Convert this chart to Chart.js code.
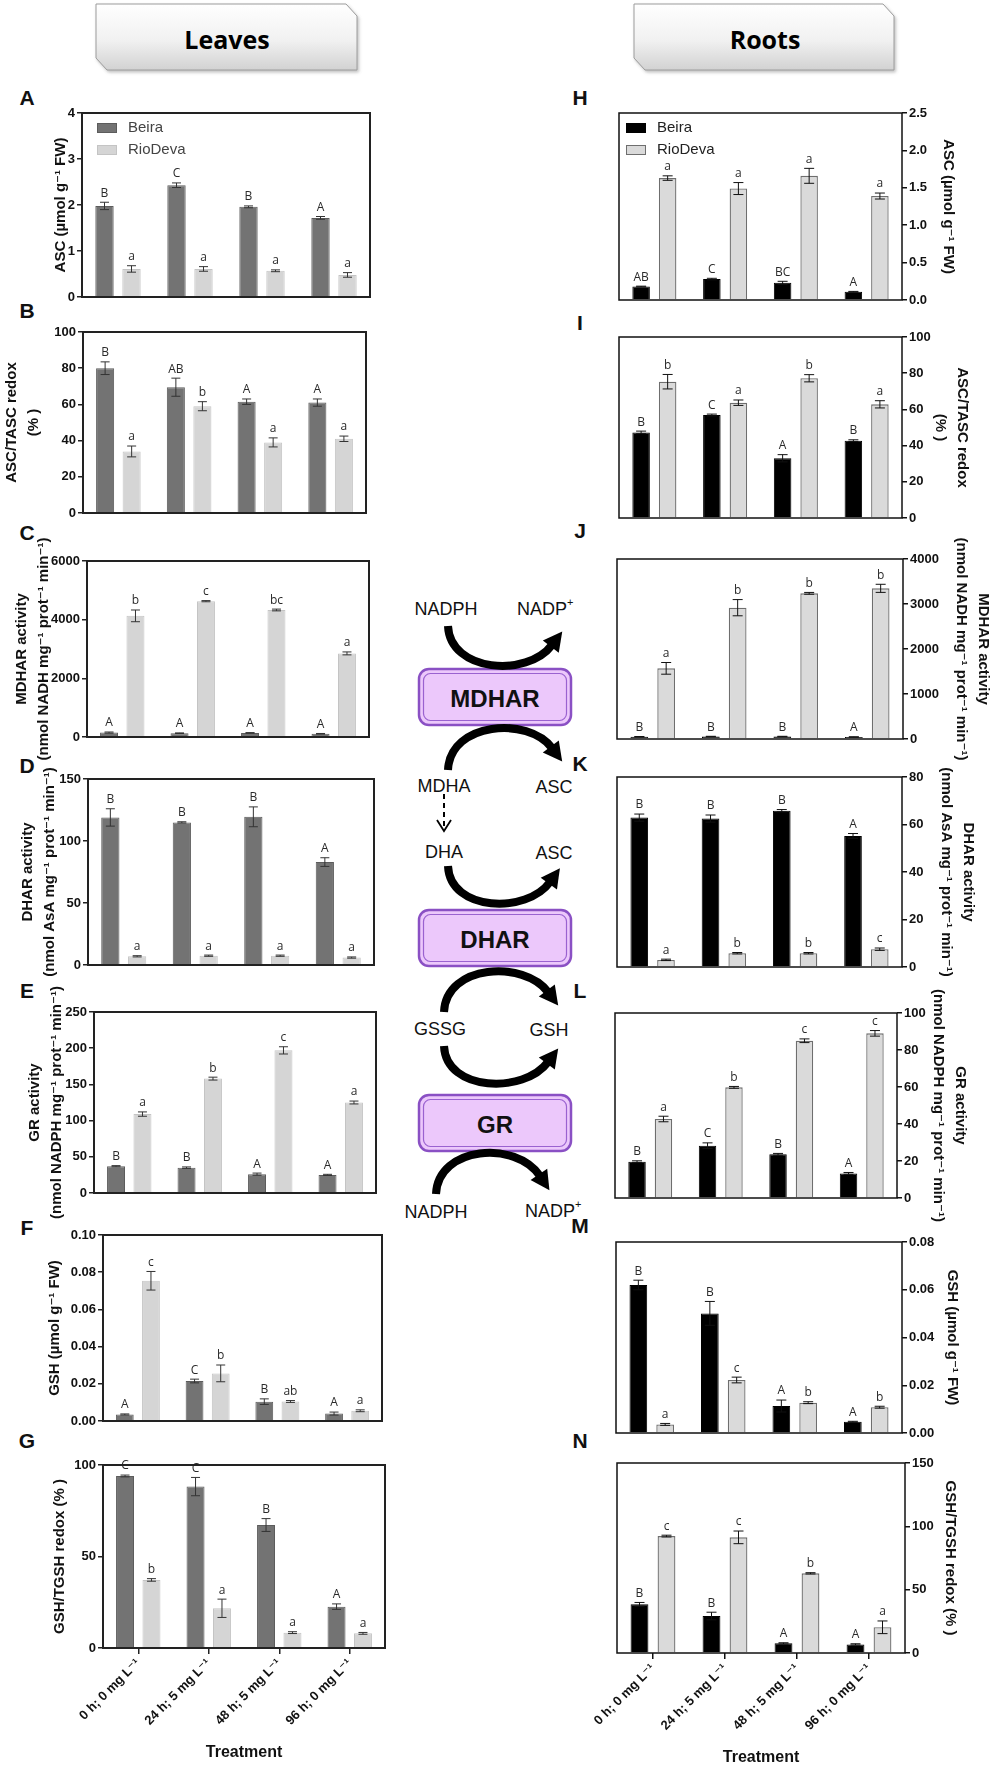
<!DOCTYPE html>
<html>
<head>
<meta charset="utf-8">
<script src="https://cdn.jsdelivr.net/npm/chart.js@4.4.1/dist/chart.umd.min.js"></script>
<style>
  body { margin: 0; background: #fff; width: 1000px; height: 1772px; position: relative; overflow: hidden; }
  canvas { position: absolute; }
  #art { position: absolute; left: 0; top: 0; }
  #art text { font-family: 'Liberation Sans', Arial, 'DejaVu Sans', sans-serif; fill: #111; }
</style>
</head>
<body>
<svg id="art" width="1000" height="1772" xmlns="http://www.w3.org/2000/svg">
  <defs>
    <linearGradient id="hdrFill" x1="0" y1="0" x2="0" y2="1">
      <stop offset="0" stop-color="#ffffff"/>
      <stop offset="0.55" stop-color="#f1f1f1"/>
      <stop offset="1" stop-color="#d2d2d2"/>
    </linearGradient>
    <filter id="hdrShadow" x="-5%" y="-10%" width="115%" height="140%">
      <feDropShadow dx="1.5" dy="2" stdDeviation="1.5" flood-color="#777" flood-opacity="0.45"/>
    </filter>
  </defs>
  <polygon points="96,4 346,4 357,16 357,70 107,70 96,58" fill="url(#hdrFill)" stroke="#9c9c9c" stroke-width="1" filter="url(#hdrShadow)"/>
  <polygon points="634,4 883,4 894,16 894,70 645,70 634,58" fill="url(#hdrFill)" stroke="#9c9c9c" stroke-width="1" filter="url(#hdrShadow)"/>
  <text x="227" y="39" text-anchor="middle" dominant-baseline="central" style="font-family:'Open Sans',sans-serif;font-weight:700;font-size:25px;fill:#000">Leaves</text>
  <text x="765" y="39" text-anchor="middle" dominant-baseline="central" style="font-family:'Open Sans',sans-serif;font-weight:700;font-size:25px;fill:#000">Roots</text>
  <g id="diagram"></g>
  <g id="tags"></g>
</svg>
<script>
Chart.defaults.font.family = "'Liberation Sans', Arial, 'DejaVu Sans', sans-serif"
Chart.defaults.color = '#111'

const treatments = ['0 h; 0 mg L⁻¹', '24 h; 5 mg L⁻¹', '48 h; 5 mg L⁻¹', '96 h; 0 mg L⁻¹']

// ---- Leaves ----
// A: ASC
const aBeira = [1.98, 2.43, 1.96, 1.72]
const aBeiraErr = [0.08, 0.05, 0.02, 0.03]
const aRio = [0.61, 0.61, 0.57, 0.48]
const aRioErr = [0.07, 0.05, 0.02, 0.05]
const aBeiraSig = ['B', 'C', 'B', 'A']
const aRioSig = ['a', 'a', 'a', 'a']
// B: ASC/TASC redox
const bBeira = [80, 69.5, 61.5, 61]
const bBeiraErr = [3.5, 5, 1.5, 2]
const bRio = [34, 59, 39, 41]
const bRioErr = [3, 2.5, 2.5, 1.5]
const bBeiraSig = ['B', 'AB', 'A', 'A']
const bRioSig = ['a', 'b', 'a', 'a']
// C: MDHAR
const cBeira = [150, 130, 140, 110]
const cBeiraErr = [20, 10, 10, 10]
const cRio = [4130, 4630, 4330, 2850]
const cRioErr = [200, 20, 30, 50]
const cBeiraSig = ['A', 'A', 'A', 'A']
const cRioSig = ['b', 'c', 'bc', 'a']
// D: DHAR
const dBeira = [119, 115, 119.5, 83]
const dBeiraErr = [7, 0.5, 8, 3.5]
const dRio = [7, 7.5, 7.5, 6]
const dRioErr = [0.5, 0.5, 0.5, 0.5]
const dBeiraSig = ['B', 'B', 'B', 'A']
const dRioSig = ['a', 'a', 'a', 'a']
// E: GR
const eBeira = [37, 35, 26, 25]
const eBeiraErr = [0.8, 1, 1.5, 0.8]
const eRio = [109, 158, 197, 125]
const eRioErr = [3, 2, 5, 2]
const eBeiraSig = ['B', 'B', 'A', 'A']
const eRioSig = ['a', 'b', 'c', 'a']
// F: GSH
const fBeira = [0.0035, 0.0215, 0.0104, 0.004]
const fBeiraErr = [0.0003, 0.001, 0.0015, 0.0008]
const fRio = [0.0754, 0.0256, 0.0105, 0.0055]
const fRioErr = [0.005, 0.0045, 0.0005, 0.0005]
const fBeiraSig = ['A', 'C', 'B', 'A']
const fRioSig = ['c', 'b', 'ab', 'a']
// G: GSH/TGSH redox
const gBeira = [94, 88.2, 67.2, 22.6]
const gBeiraErr = [0.5, 5, 3.5, 1.5]
const gRio = [37.2, 21.7, 8.4, 8]
const gRioErr = [0.7, 5, 0.5, 0.5]
const gBeiraSig = ['C', 'C', 'B', 'A']
const gRioSig = ['b', 'a', 'a', 'a']

// ---- Roots ----
// H: ASC
const hBeira = [0.18, 0.28, 0.23, 0.11]
const hBeiraErr = [0.005, 0.01, 0.02, 0.005]
const hRio = [1.63, 1.49, 1.66, 1.39]
const hRioErr = [0.03, 0.08, 0.1, 0.04]
const hBeiraSig = ['AB', 'C', 'BC', 'A']
const hRioSig = ['a', 'a', 'a', 'a']
// I: ASC/TASC redox
const iBeira = [47.3, 56.9, 33, 42.7]
const iBeiraErr = [0.7, 0.5, 2, 0.5]
const iRio = [75.3, 63.7, 77.2, 62.8]
const iRioErr = [4, 1.5, 2, 2]
const iBeiraSig = ['B', 'C', 'A', 'B']
const iRioSig = ['b', 'a', 'b', 'a']
// J: MDHAR
const jBeira = [50, 55, 55, 45]
const jBeiraErr = [5, 5, 5, 5]
const jRio = [1570, 2918, 3237, 3348]
const jRioErr = [130, 180, 20, 90]
const jBeiraSig = ['B', 'B', 'B', 'A']
const jRioSig = ['a', 'b', 'b', 'b']
// K: DHAR
const kBeira = [62.9, 62.5, 65.8, 55.2]
const kBeiraErr = [1.5, 1.5, 0.5, 1]
const kRio = [3, 5.8, 5.8, 7.5]
const kRioErr = [0.3, 0.3, 0.3, 0.5]
const kBeiraSig = ['B', 'B', 'B', 'A']
const kRioSig = ['a', 'b', 'b', 'c']
// L: GR
const lBeira = [19.6, 28.3, 23.6, 13.3]
const lBeiraErr = [0.5, 1.5, 0.5, 0.5]
const lRio = [42.7, 59.8, 85, 89]
const lRioErr = [1.5, 0.5, 1, 1.5]
const lBeiraSig = ['B', 'C', 'B', 'A']
const lRioSig = ['a', 'b', 'c', 'c']
// M: GSH
const mBeira = [0.062, 0.0501, 0.0113, 0.0047]
const mBeiraErr = [0.002, 0.005, 0.0025, 0.0002]
const mRio = [0.0036, 0.0222, 0.0127, 0.0108]
const mRioErr = [0.0004, 0.0012, 0.0004, 0.0004]
const mBeiraSig = ['B', 'B', 'A', 'A']
const mRioSig = ['a', 'c', 'b', 'b']
// N: GSH/TGSH redox
const nBeira = [38.4, 29.2, 7.6, 6.8]
const nBeiraErr = [1.5, 3, 0.5, 0.5]
const nRio = [92.3, 91.3, 62.9, 20.3]
const nRioErr = [0.7, 5, 0.5, 5]
const nBeiraSig = ['B', 'B', 'A', 'A']
const nRioSig = ['c', 'c', 'b', 'a']

const leafPanels = [
    { tag: 'A', title: 'ASC (µmol g⁻¹ FW)', max: 4, step: 1, dec: 0, beira: [aBeira, aBeiraErr, aBeiraSig], rio: [aRio, aRioErr, aRioSig], legend: true },
    { tag: 'B', title: ['ASC/TASC redox', '(% )'], max: 100, step: 20, dec: 0, beira: [bBeira, bBeiraErr, bBeiraSig], rio: [bRio, bRioErr, bRioSig] },
    { tag: 'C', title: ['MDHAR activity', '(nmol NADH mg⁻¹ prot⁻¹ min⁻¹)'], max: 6000, step: 2000, dec: 0, beira: [cBeira, cBeiraErr, cBeiraSig], rio: [cRio, cRioErr, cRioSig] },
    { tag: 'D', title: ['DHAR activity', '(nmol AsA mg⁻¹ prot⁻¹ min⁻¹)'], max: 150, step: 50, dec: 0, beira: [dBeira, dBeiraErr, dBeiraSig], rio: [dRio, dRioErr, dRioSig] },
    { tag: 'E', title: ['GR activity', '(nmol NADPH mg⁻¹ prot⁻¹ min⁻¹)'], max: 250, step: 50, dec: 0, beira: [eBeira, eBeiraErr, eBeiraSig], rio: [eRio, eRioErr, eRioSig] },
    { tag: 'F', title: 'GSH (µmol g⁻¹ FW)', max: 0.1, step: 0.02, dec: 2, beira: [fBeira, fBeiraErr, fBeiraSig], rio: [fRio, fRioErr, fRioSig] },
    { tag: 'G', title: 'GSH/TGSH redox (% )', max: 100, step: 50, dec: 0, beira: [gBeira, gBeiraErr, gBeiraSig], rio: [gRio, gRioErr, gRioSig], xLabels: true }
]

const rootPanels = [
    { tag: 'H', title: 'ASC (µmol g⁻¹ FW)', max: 2.5, step: 0.5, dec: 1, beira: [hBeira, hBeiraErr, hBeiraSig], rio: [hRio, hRioErr, hRioSig], legend: true },
    { tag: 'I', title: ['ASC/TASC redox', '(% )'], max: 100, step: 20, dec: 0, beira: [iBeira, iBeiraErr, iBeiraSig], rio: [iRio, iRioErr, iRioSig] },
    { tag: 'J', title: ['MDHAR activity', '(nmol NADH mg⁻¹ prot⁻¹ min⁻¹)'], max: 4000, step: 1000, dec: 0, beira: [jBeira, jBeiraErr, jBeiraSig], rio: [jRio, jRioErr, jRioSig] },
    { tag: 'K', title: ['DHAR activity', '(nmol AsA mg⁻¹ prot⁻¹ min⁻¹)'], max: 80, step: 20, dec: 0, beira: [kBeira, kBeiraErr, kBeiraSig], rio: [kRio, kRioErr, kRioSig] },
    { tag: 'L', title: ['GR activity', '(nmol NADPH mg⁻¹ prot⁻¹ min⁻¹)'], max: 100, step: 20, dec: 0, beira: [lBeira, lBeiraErr, lBeiraSig], rio: [lRio, lRioErr, lRioSig] },
    { tag: 'M', title: 'GSH (µmol g⁻¹ FW)', max: 0.08, step: 0.02, dec: 2, beira: [mBeira, mBeiraErr, mBeiraSig], rio: [mRio, mRioErr, mRioSig] },
    { tag: 'N', title: 'GSH/TGSH redox (% )', max: 150, step: 50, dec: 0, beira: [nBeira, nBeiraErr, nBeiraSig], rio: [nRio, nRioErr, nRioSig], xLabels: true }
]

// plot boxes: [left, right, top, bottom, x of first title line, tag x, tag y]
const leafBoxes = [
    [82, 370, 113, 297, 61, 27, 97],
    [83, 366, 332, 513, 12, 27, 310],
    [87, 369, 561, 737, 22, 27, 532],
    [88, 374, 779, 965, 28, 27, 765],
    [94, 376, 1012, 1193, 35, 27, 990],
    [103, 382, 1235, 1421, 55, 27, 1227],
    [103, 385, 1465, 1648, 60, 27, 1440]
]
const rootBoxes = [
    [619, 902, 113, 300, 948, 580, 97],
    [619, 902, 337, 518, 962, 580, 322],
    [617, 903, 559, 739, 983, 580, 530],
    [617, 902, 777, 967, 968, 580, 763],
    [615, 897, 1013, 1198, 960, 580, 990],
    [616, 902, 1242, 1433, 952, 580, 1225],
    [617, 905, 1463, 1653, 950, 580, 1440]
]

const leafStyle = {
    beiraFill: '#737373', beiraLine: '#5c5c5c', beiraW: 1,
    rioFill: '#d5d5d5', rioLine: '#c4c4c4', rioW: 1,
    errColor: '#333', cap: 4.5, frame: '#222', frameW: 2, barPct: 0.68
}
const rootStyle = {
    beiraFill: '#000000', beiraLine: '#000000', beiraW: 1,
    rioFill: '#dadada', rioLine: '#6e6e6e', rioW: 1.3,
    errColor: '#111', cap: 5, frame: '#111', frameW: 1.5, barPct: 0.66
}

// error bars, letters, frame and the inside legend
const barMarks = {
    id: 'barMarks',
    afterDatasetsDraw(chart, args, opts) {
        const { ctx, chartArea } = chart
        const y = chart.scales.y
        ctx.save()
        chart.data.datasets.forEach((ds, di) => {
            chart.getDatasetMeta(di).data.forEach((bar, i) => {
                const v = ds.data[i]
                const e = ds.err[i]
                const top = y.getPixelForValue(v + e)
                const low = y.getPixelForValue(Math.max(v - e, 0))
                ctx.strokeStyle = opts.errColor
                ctx.lineWidth = 1
                ctx.beginPath()
                ctx.moveTo(bar.x, low)
                ctx.lineTo(bar.x, top)
                ctx.moveTo(bar.x - opts.cap, top)
                ctx.lineTo(bar.x + opts.cap, top)
                ctx.moveTo(bar.x - opts.cap, low)
                ctx.lineTo(bar.x + opts.cap, low)
                ctx.stroke()
                ctx.fillStyle = '#2a2a2a'
                ctx.font = "12px 'Open Sans', 'Liberation Sans', sans-serif"
                ctx.textAlign = 'center'
                ctx.textBaseline = 'bottom'
                ctx.fillText(ds.sig[i], bar.x, Math.min(top, bar.y) - 3)
            })
        })
        ctx.strokeStyle = opts.frame
        ctx.lineWidth = opts.frameW
        ctx.strokeRect(chartArea.left, chartArea.top, chartArea.right - chartArea.left, chartArea.bottom - chartArea.top)
        if (opts.legend) {
            const lx = chartArea.left + opts.legend.dx
            chart.data.datasets.forEach((ds, di) => {
                const ly = chartArea.top + 10 + di * 22
                ctx.fillStyle = ds.backgroundColor
                ctx.fillRect(lx, ly, 20, 10)
                ctx.strokeStyle = ds.borderColor
                ctx.lineWidth = 1
                ctx.strokeRect(lx + 0.5, ly + 0.5, 19, 9)
                ctx.fillStyle = opts.legend.color
                ctx.font = "15px 'Liberation Sans', Arial, sans-serif"
                ctx.textAlign = 'left'
                ctx.textBaseline = 'middle'
                ctx.fillText(ds.label, lx + 31, ly + 5)
            })
        }
        ctx.restore()
    }
}

function addPanel(panel, box, side, style) {
    const [pl, pr, pt, pb, titleX] = box
    const padTop = 45
    const xH = panel.xLabels ? 115 : 0
    const padBottom = panel.xLabels ? 4 : 45
    let left, width, axisW, padL, padR
    if (side === 'left') {
        padL = 0
        padR = 14
        left = Math.round(titleX - 11)
        axisW = pl - left
        width = pr + padR - left
    } else {
        padL = 50
        padR = 0
        left = pl - padL
        axisW = Math.round(titleX + 11 - pr)
        width = padL + (pr - pl) + axisW
    }
    const height = padTop + (pb - pt) + xH + padBottom

    const canvas = document.createElement('canvas')
    canvas.width = width
    canvas.height = height
    canvas.style.left = left + 'px'
    canvas.style.top = (pt - padTop) + 'px'
    canvas.style.width = width + 'px'
    canvas.style.height = height + 'px'
    document.body.appendChild(canvas)

    const xScale = panel.xLabels ? {
        ticks: { autoSkip: false, minRotation: 45, maxRotation: 45, padding: 2, color: '#111', font: { size: 13, weight: 'bold' } },
        grid: { display: true, drawOnChartArea: false, offset: false, tickLength: 6, color: style.frame, lineWidth: 1.5 },
        border: { display: false },
        title: { display: true, text: 'Treatment', color: '#111', font: { size: 16, weight: 'bold', lineHeight: 1.25 }, padding: 0 },
        afterFit: s => { s.height = xH }
    } : {
        ticks: { display: false },
        grid: { display: false },
        border: { display: false },
        afterFit: s => { s.height = 0 }
    }

    return new Chart(canvas, {
        type: 'bar',
        data: {
            labels: treatments,
            datasets: [
                {
                    label: 'Beira',
                    data: panel.beira[0],
                    err: panel.beira[1],
                    sig: panel.beira[2],
                    backgroundColor: style.beiraFill,
                    borderColor: style.beiraLine,
                    borderWidth: style.beiraW
                },
                {
                    label: 'RioDeva',
                    data: panel.rio[0],
                    err: panel.rio[1],
                    sig: panel.rio[2],
                    backgroundColor: style.rioFill,
                    borderColor: style.rioLine,
                    borderWidth: style.rioW
                }
            ]
        },
        options: {
            responsive: false,
            animation: false,
            events: [],
            categoryPercentage: 0.75,
            barPercentage: style.barPct,
            layout: { padding: { left: padL, right: padR, top: padTop, bottom: padBottom } },
            plugins: {
                legend: { display: false },
                tooltip: { enabled: false },
                barMarks: {
                    errColor: style.errColor,
                    cap: style.cap,
                    frame: style.frame,
                    frameW: style.frameW,
                    legend: panel.legend ? { dx: side === 'left' ? 15 : 7, color: side === 'left' ? '#444' : '#222' } : null
                }
            },
            scales: {
                x: xScale,
                y: {
                    position: side,
                    min: 0,
                    max: panel.max,
                    ticks: {
                        stepSize: panel.step,
                        padding: 2,
                        color: '#111',
                        font: { size: 13, weight: 'bold' },
                        callback: v => Number(v).toFixed(panel.dec)
                    },
                    grid: { display: true, drawOnChartArea: false, tickLength: 5, color: style.frame, lineWidth: 1.5 },
                    border: { display: false },
                    title: {
                        display: true,
                        text: panel.title,
                        color: '#111',
                        padding: 0,
                        font: { size: 15, weight: 'bold', lineHeight: 1.45 }
                    },
                    afterFit: s => { s.width = axisW }
                }
            }
        },
        plugins: [barMarks]
    })
}

leafPanels.forEach((p, i) => addPanel(p, leafBoxes[i], 'left', leafStyle))
rootPanels.forEach((p, i) => addPanel(p, rootBoxes[i], 'right', rootStyle))

// panel letters
const NS = 'http://www.w3.org/2000/svg'
const tags = document.getElementById('tags')
function svgText(parent, x, y, str, attrs = {}) {
    const t = document.createElementNS(NS, 'text')
    t.setAttribute('x', x)
    t.setAttribute('y', y)
    t.setAttribute('dominant-baseline', 'central')
    Object.entries(attrs).forEach(([k, v]) => t.setAttribute(k, v))
    t.textContent = str
    parent.appendChild(t)
    return t
}
leafPanels.forEach((p, i) => svgText(tags, leafBoxes[i][5], leafBoxes[i][6], p.tag, { 'text-anchor': 'middle', 'font-size': 21, 'font-weight': 'bold' }))
rootPanels.forEach((p, i) => svgText(tags, rootBoxes[i][5], rootBoxes[i][6], p.tag, { 'text-anchor': 'middle', 'font-size': 21, 'font-weight': 'bold' }))

// ascorbate-glutathione cycle sketch
const diagram = document.getElementById('diagram')
const enzymes = [['MDHAR', 669], ['DHAR', 910], ['GR', 1095]]
enzymes.forEach(([name, y]) => {
    const outer = document.createElementNS(NS, 'rect')
    Object.entries({ x: 419, y, width: 152, height: 56, rx: 10, fill: '#ecc8fb', stroke: '#8a50c4', 'stroke-width': 2.5 })
        .forEach(([k, v]) => outer.setAttribute(k, v))
    diagram.appendChild(outer)
    const inner = document.createElementNS(NS, 'rect')
    Object.entries({ x: 423.5, y: y + 4.5, width: 143, height: 47, rx: 7, fill: 'none', stroke: '#9a62d0', 'stroke-width': 1.2 })
        .forEach(([k, v]) => inner.setAttribute(k, v))
    diagram.appendChild(inner)
    svgText(diagram, 495, y + 29, name, { 'text-anchor': 'middle', 'font-size': 24, 'font-weight': 'bold' })
})

const words = [
    ['NADPH', 446, 609, 'middle'], ['MDHA', 444, 786, 'middle'], ['ASC', 554, 787, 'middle'],
    ['DHA', 444, 852, 'middle'], ['ASC', 554, 853, 'middle'], ['GSSG', 440, 1029, 'middle'],
    ['GSH', 549, 1030, 'middle'], ['NADPH', 436, 1212, 'middle']
]
words.forEach(([s, x, y, a]) => svgText(diagram, x, y, s, { 'text-anchor': a, 'font-size': 18 }))
;[[517, 609], [525, 1211]].forEach(([x, y]) => {
    const t = svgText(diagram, x, y, 'NADP', { 'font-size': 18 })
    const sup = document.createElementNS(NS, 'tspan')
    sup.setAttribute('dy', -7)
    sup.setAttribute('font-size', 11)
    sup.textContent = '+'
    t.appendChild(sup)
})

const arcs = [
    [[448, 626], [450, 672], [527, 678], [552, 645]],
    [[448, 770], [450, 722], [528, 716], [552, 748]],
    [[448, 866], [450, 912], [527, 914], [550, 882]],
    [[444, 1012], [446, 964], [524, 960], [548, 992]],
    [[444, 1046], [446, 1092], [524, 1094], [548, 1062]],
    [[436, 1194], [438, 1146], [516, 1140], [540, 1176]]
]
arcs.forEach(([s, c1, c2, e]) => {
    const path = document.createElementNS(NS, 'path')
    path.setAttribute('d', `M${s[0]},${s[1]} C${c1[0]},${c1[1]} ${c2[0]},${c2[1]} ${e[0]},${e[1]}`)
    path.setAttribute('fill', 'none')
    path.setAttribute('stroke', '#000')
    path.setAttribute('stroke-width', 8)
    diagram.appendChild(path)
    const dx = e[0] - c2[0]
    const dy = e[1] - c2[1]
    const len = Math.hypot(dx, dy)
    const ux = dx / len
    const uy = dy / len
    const tip = [e[0] + ux * 17, e[1] + uy * 17]
    const head = document.createElementNS(NS, 'polygon')
    head.setAttribute('points', [
        [e[0] - uy * 10 - ux * 2, e[1] + ux * 10 - uy * 2],
        tip,
        [e[0] + uy * 10 - ux * 2, e[1] - ux * 10 - uy * 2]
    ].map(p => p.join(',')).join(' '))
    head.setAttribute('fill', '#000')
    diagram.appendChild(head)
})

const dash = document.createElementNS(NS, 'line')
Object.entries({ x1: 444, y1: 794, x2: 444, y2: 829, stroke: '#000', 'stroke-width': 2, 'stroke-dasharray': '5,4' })
    .forEach(([k, v]) => dash.setAttribute(k, v))
diagram.appendChild(dash)
const vee = document.createElementNS(NS, 'polyline')
Object.entries({ points: '437,820 444,831 451,820', fill: 'none', stroke: '#000', 'stroke-width': 1.8 })
    .forEach(([k, v]) => vee.setAttribute(k, v))
diagram.appendChild(vee)
</script>
</body>
</html>
